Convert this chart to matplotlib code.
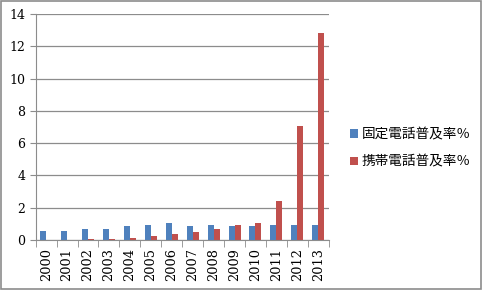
import numpy as np
import matplotlib.pyplot as plt
from matplotlib.patches import Rectangle

years = ["2000", "2001", "2002", "2003", "2004", "2005", "2006",
         "2007", "2008", "2009", "2010", "2011", "2012", "2013"]
fixed = [0.58, 0.58, 0.66, 0.66, 0.87, 0.94, 1.08, 0.87, 0.94, 0.87, 0.87, 0.94, 0.94, 0.94]
mobile = [0.0, 0.0, 0.05, 0.05, 0.14, 0.25, 0.39, 0.52, 0.66, 0.94, 1.08, 2.4, 7.08, 12.8]
labels = ["固定電話普及率％", "携帯電話普及率％"]

fig = plt.figure(figsize=(4.82, 2.9), dpi=100)
ax = fig.add_axes([0.074, 0.172, 0.608, 0.78])

x = np.arange(len(years))
w = 0.286
b1 = ax.bar(x - w / 2, fixed, w, color="#4F81BD", label=labels[0])
b2 = ax.bar(x + w / 2, mobile, w, color="#C0504D", label=labels[1])

ax.set_xlim(-0.5, len(years) - 0.5)
ax.set_ylim(0, 14)
ax.set_yticks(range(0, 15, 2))
ax.yaxis.grid(True, color="#8c8c8c", lw=0.9)
ax.set_axisbelow(True)

ax.set_xticks(x)
ax.set_xticklabels(years, rotation=90, family="DejaVu Serif", fontsize=9.3)
ax.set_xticks(np.arange(-0.5, len(years)), minor=True)
ax.tick_params(axis="x", which="major", length=0, pad=6)
ax.tick_params(axis="x", which="minor", length=5, color="#8c8c8c")
ax.tick_params(axis="y", length=4, color="#8c8c8c", labelsize=9)
for t in ax.get_yticklabels():
    t.set_family("DejaVu Serif")

for s in ["top", "right"]:
    ax.spines[s].set_visible(False)
for s in ["left", "bottom"]:
    ax.spines[s].set_color("#8c8c8c")

fig.legend(handles=[b1, b2], loc="center left", bbox_to_anchor=(0.7, 0.49),
           frameon=False, prop={"family": ["Noto Sans CJK JP", "DejaVu Sans"], "size": 9.8},
           handlelength=0.6, handleheight=0.6, handletextpad=0.3, labelspacing=1.0)

fig.patches.append(Rectangle((0.002, 0.003), 0.995, 0.993, transform=fig.transFigure,
                             fill=False, edgecolor="#8c8c8c", lw=1.2))

fig.savefig("out.png", dpi=100)
